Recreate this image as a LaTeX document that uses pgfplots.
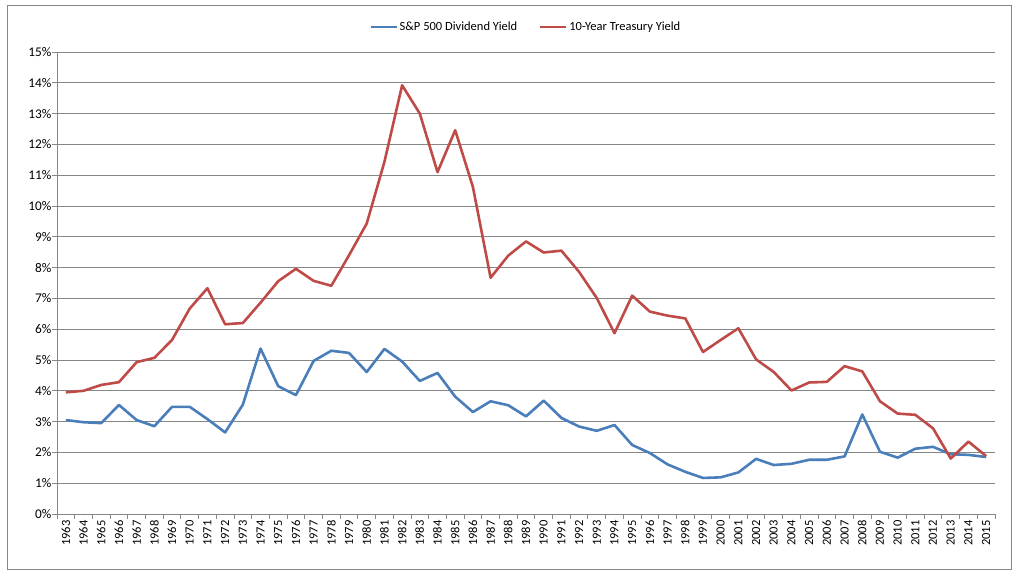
\documentclass[border=0pt]{standalone}
\usepackage{pgfplots}
\pgfplotsset{compat=1.18}
\usepackage{fontspec}
\setmainfont{Carlito}
\definecolor{divblue}{HTML}{4A7EBB}
\definecolor{tsyred}{HTML}{BE4B48}
\definecolor{gridgray}{HTML}{868686}

\begin{document}
\begin{tikzpicture}[x=1pt,y=1pt]
% page extent and outer chart frame
\path (-57,-64) rectangle (963,514);
\draw[gridgray, line width=0.9pt] (-50,-55) rectangle (954,509);
\begin{axis}[
    at={(0,0)}, anchor=south west,
    scale only axis,
    width=938pt, height=462pt,
    xmin=1962.5, xmax=2015.5,
    ymin=0, ymax=15,
    xtick={1963,...,2015},
    xticklabel={\pgfmathparse{int(round(\tick))}\pgfmathresult},
    minor xtick={1962.5,1963.5,...,2015.5},
    major tick length=0pt,
    minor tick length=5pt,
    xtick pos=bottom, ytick pos=left,
    tick align=outside,
    ytick={0,1,...,15},
    extra y ticks={0,1,...,15},
    extra y tick labels={},
    extra y tick style={major tick length=5pt, grid=none},
    yticklabel={\pgfmathparse{int(round(\tick))}\pgfmathresult\%},
    /pgf/number format/assume math mode=true,
    /pgf/number format/1000 sep={},
    xticklabel style={rotate=90, anchor=east, font=\fontsize{12.5}{13}\selectfont, xshift=-3pt},
    yticklabel style={font=\fontsize{13.3}{14}\selectfont, xshift=-2pt},
    ymajorgrids=true,
    grid style={gridgray, line width=0.9pt},
    axis line style={gridgray, line width=0.9pt},
    tick style={gridgray, line width=0.9pt},
    axis x line*=bottom,
    axis y line*=left,
    legend style={
        at={(0.5,1.035)}, anchor=south,
        draw=none, fill=none,
        legend columns=2,
        font=\fontsize{12.5}{13}\selectfont,
        /tikz/every even column/.append style={column sep=20pt},
    },
    legend image code/.code={\draw[#1, line width=2pt] (0pt,0pt) -- (26pt,0pt);},
]
\addplot[divblue, line width=2.6pt, line join=round] coordinates {
(1963,3.05) (1964,2.98) (1965,2.95) (1966,3.54) (1967,3.05) (1968,2.85)
(1969,3.48) (1970,3.48) (1971,3.08) (1972,2.65) (1973,3.55) (1974,5.37)
(1975,4.15) (1976,3.86) (1977,4.97) (1978,5.30) (1979,5.23) (1980,4.61)
(1981,5.36) (1982,4.95) (1983,4.32) (1984,4.58) (1985,3.81) (1986,3.31)
(1987,3.66) (1988,3.53) (1989,3.17) (1990,3.68) (1991,3.12) (1992,2.84)
(1993,2.70) (1994,2.89) (1995,2.24) (1996,1.98) (1997,1.61) (1998,1.37)
(1999,1.17) (2000,1.19) (2001,1.35) (2002,1.79) (2003,1.59) (2004,1.63)
(2005,1.76) (2006,1.76) (2007,1.87) (2008,3.23) (2009,2.02) (2010,1.83)
(2011,2.12) (2012,2.18) (2013,1.94) (2014,1.92) (2015,1.85)
};
\addplot[tsyred, line width=2.6pt, line join=round] coordinates {
(1963,3.95) (1964,4.00) (1965,4.19) (1966,4.28) (1967,4.93) (1968,5.07)
(1969,5.65) (1970,6.67) (1971,7.33) (1972,6.16) (1973,6.20) (1974,6.86)
(1975,7.56) (1976,7.96) (1977,7.57) (1978,7.41) (1979,8.40) (1980,9.43)
(1981,11.43) (1982,13.92) (1983,13.00) (1984,11.10) (1985,12.46) (1986,10.62)
(1987,7.67) (1988,8.39) (1989,8.85) (1990,8.49) (1991,8.55) (1992,7.86)
(1993,7.01) (1994,5.87) (1995,7.09) (1996,6.57) (1997,6.44) (1998,6.35)
(1999,5.26) (2000,5.65) (2001,6.03) (2002,5.02) (2003,4.61) (2004,4.01)
(2005,4.27) (2006,4.29) (2007,4.80) (2008,4.63) (2009,3.66) (2010,3.26)
(2011,3.22) (2012,2.78) (2013,1.80) (2014,2.35) (2015,1.88)
};
\legend{S\&P 500 Dividend Yield, 10-Year Treasury Yield}
\end{axis}
\end{tikzpicture}
\end{document}
